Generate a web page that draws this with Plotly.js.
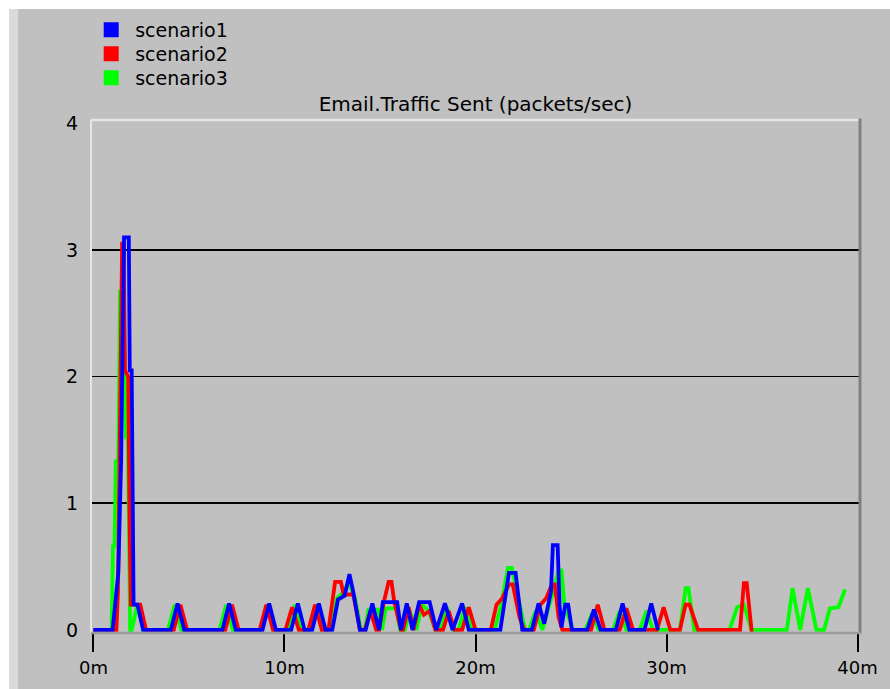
<!DOCTYPE html>
<html>
<head>
<meta charset="utf-8">
<script src="https://cdn.plot.ly/plotly-3.0.1.min.js"></script>
<style>
  html, body { margin: 0; padding: 0; background: #ffffff; width: 890px; height: 689px; overflow: hidden; }
  #chart { position: absolute; left: 9px; top: 9px; width: 881px; height: 680px; }
</style>
</head>
<body>
<div id="chart"></div>
<script>
// ---- data (time in minutes, values in packets/sec) ----
const seriesNames = ['scenario1', 'scenario2', 'scenario3'];

const s1Time = [0, 1.0, 1.1, 1.2, 1.3, 1.45, 1.6, 1.85, 1.9, 2.0, 2.05, 2.1, 2.3, 2.6,
  4.05, 4.4, 4.75, 6.75, 7.1, 7.45, 8.85, 9.2, 9.55, 10.35, 10.7, 11.05, 11.45, 11.8, 12.15,
  12.5, 12.8, 13.15, 13.4, 13.6, 13.95,
  14.25, 14.6, 14.95, 15.15, 15.9, 16.1, 16.4, 16.7, 17.05, 17.6, 17.95, 18.4, 18.8, 19.3, 19.65,
  21.3, 21.75, 22.1, 22.45, 22.95, 23.3, 23.6, 23.95, 24.05, 24.3, 24.4, 24.5, 24.7, 24.85, 25.05,
  25.85, 26.2, 26.55, 27.35, 27.7, 28.05, 28.85, 29.2, 29.55];
const s1Value = [0, 0, 0.15, 0.3, 0.45, 1.35, 3.1, 3.1, 2.05, 2.05, 1.0, 0.2, 0.2, 0,
  0, 0.21, 0, 0, 0.21, 0, 0, 0.21, 0, 0, 0.21, 0, 0, 0.21, 0,
  0, 0.24, 0.27, 0.44, 0.3, 0,
  0, 0.21, 0, 0.22, 0.22, 0, 0.21, 0, 0.22, 0.22, 0, 0.21, 0, 0.21, 0,
  0, 0.45, 0.45, 0, 0, 0.21, 0.05, 0.3, 0.67, 0.67, 0.2, 0.02, 0.2, 0.2, 0,
  0, 0.16, 0, 0, 0.21, 0, 0, 0.21, 0];

const s2Time = [0, 1.2, 1.28, 1.35, 1.42, 1.5, 1.58, 1.65, 1.82, 1.88, 1.95, 2.45, 2.75,
  4.2, 4.55, 4.9, 6.9, 7.25, 7.6, 8.7, 9.05, 9.4, 10.05, 10.4, 10.75, 11.25, 11.6, 11.95,
  12.3, 12.65, 12.95, 13.1, 13.6, 13.95, 14.2, 14.5, 14.8, 14.95, 15.2, 15.45, 15.6, 15.75, 16.1,
  16.2, 16.5, 16.75, 17.05, 17.3, 17.6, 17.9, 18.3, 18.6, 18.9, 19.3, 19.65, 20.0,
  20.8, 21.1, 21.4, 21.75, 21.95, 22.3, 22.55, 23.05, 23.4, 23.7, 24.0, 24.15, 24.35, 24.55,
  26.05, 26.4, 26.75, 27.55, 27.9, 28.25, 29.5, 29.85, 30.2, 30.7, 31.0, 31.2, 31.65,
  33.85, 34.05, 34.2, 34.45, 34.55];
const s2Value = [0, 0, 0.3, 1.0, 2.05, 3.05, 3.05, 2.05, 2.0, 1.0, 0.2, 0.2, 0,
  0, 0.2, 0, 0, 0.2, 0, 0, 0.2, 0, 0, 0.18, 0, 0, 0.2, 0,
  0, 0.38, 0.38, 0.28, 0.28, 0, 0, 0.15, 0, 0, 0.22, 0.38, 0.38, 0.22, 0,
  0, 0.18, 0, 0.2, 0.12, 0.15, 0, 0, 0.15, 0, 0, 0.18, 0,
  0, 0.2, 0.25, 0.36, 0.36, 0.1, 0, 0, 0.2, 0.25, 0.36, 0.36, 0.1, 0,
  0, 0.2, 0, 0, 0.17, 0, 0, 0.18, 0, 0, 0.2, 0.2, 0,
  0, 0.37, 0.37, 0, 0];

const s3Time = [0, 0.95, 1.02, 1.1, 1.17, 1.3, 1.39, 1.55, 1.7, 1.8, 1.85, 1.92, 2.0, 2.3, 2.6,
  3.9, 4.25, 4.6, 6.6, 6.95, 7.3, 8.75, 9.1, 9.45, 10.2, 10.55, 10.9, 11.3, 11.65, 12.0,
  12.4, 12.75, 13.1, 13.35, 13.7, 14.0, 14.2, 14.4, 14.9, 15.1, 15.3, 15.85, 16.05, 16.3, 16.55, 16.85,
  16.9, 17.2, 17.55, 17.9, 18.15, 18.5, 18.85, 19.1, 19.45, 19.8,
  21.0, 21.35, 21.7, 21.9, 22.3, 22.6, 22.8, 23.15, 23.5, 23.9, 24.15, 24.35, 24.5, 24.65, 24.9, 25.1,
  25.75, 26.1, 26.45, 27.2, 27.55, 27.9, 28.6, 28.95, 29.3, 30.7, 31.0, 31.15, 31.45,
  33.3, 33.7, 34.05, 34.45, 36.3, 36.6, 37.0, 37.4, 37.85, 38.25, 38.4, 38.55, 39.0, 39.35];
const s3Value = [0, 0, 0.66, 0.66, 1.33, 1.33, 2.67, 2.67, 1.52, 1.52, 0.9, 0, 0, 0.2, 0,
  0, 0.2, 0, 0, 0.2, 0, 0, 0.2, 0, 0, 0.2, 0, 0, 0.2, 0,
  0, 0.25, 0.3, 0.38, 0.25, 0, 0, 0.16, 0.16, 0, 0.17, 0.17, 0, 0, 0.15, 0,
  0, 0.2, 0.15, 0, 0, 0.18, 0, 0, 0.18, 0,
  0, 0.2, 0.49, 0.49, 0.2, 0, 0, 0.15, 0, 0.2, 0.35, 0.47, 0.47, 0.2, 0.1, 0,
  0, 0.13, 0, 0, 0.15, 0, 0, 0.15, 0, 0, 0.33, 0.33, 0,
  0, 0.18, 0.2, 0, 0, 0.33, 0, 0.33, 0, 0, 0.1, 0.17, 0.18, 0.32];

const xTickVals = [0, 10, 20, 30, 40];
const xTickText = ['0m', '10m', '20m', '30m', '40m'];
const yTickVals = [0, 1, 2, 3, 4];
const yTickText = ['0', '1', '2', '3', '4'];
const gridVals = [1, 2, 3];
const chartTitle = 'Email.Traffic Sent (packets/sec)';

// ---- styling ----
const colors = ['#0000ff', '#ff0000', '#00ff00'];
const FONT = 'DejaVu Sans, Verdana, sans-serif';
const BG = '#c0c0c0';
const W = 881, H = 680;
const legendIds = ['legend', 'legend2', 'legend3'];
const legendCenters = [21, 45, 69]; // px from top of the chart div

function lineTrace(t, v, i) {
  return { x: t, y: v, type: 'scatter', mode: 'lines', name: seriesNames[i],
    line: { color: colors[i], width: 3.8 }, showlegend: false, hoverinfo: 'skip' };
}
function legendTrace(i) {
  return { x: [null], y: [null], type: 'scatter', mode: 'markers', name: seriesNames[i],
    marker: { color: colors[i], symbol: 'square', size: 15 }, showlegend: true,
    yaxis: 'y2', legend: legendIds[i] };
}
function legendBox(i) {
  return { xref: 'container', yref: 'container',
    x: 78.2 / W, xanchor: 'left', y: 1 - legendCenters[i] / H, yanchor: 'middle',
    bgcolor: 'rgba(0,0,0,0)', borderwidth: 0, itemwidth: 38,
    font: { family: FONT, size: 19, color: '#000' } };
}

const data = [
  lineTrace(s3Time, s3Value, 2),
  lineTrace(s2Time, s2Value, 1),
  lineTrace(s1Time, s1Value, 0),
  legendTrace(0), legendTrace(1), legendTrace(2)
];

const yRange = [-0.024, 4.026];
const layout = {
  width: W, height: H,
  margin: { l: 82, r: 30, t: 111, b: 56, pad: 0, autoexpand: false },
  paper_bgcolor: BG, plot_bgcolor: BG,
  font: { family: FONT, size: 18, color: '#000' },
  title: { text: chartTitle, font: { family: FONT, size: 20, color: '#000' },
    x: 0.5, xref: 'paper', xanchor: 'center', y: 1 - 95 / H, yref: 'container', yanchor: 'middle' },
  showlegend: true,
  legend: legendBox(0),
  legend2: legendBox(1),
  legend3: legendBox(2),
  xaxis: { range: [-0.13, 40.13], tickvals: xTickVals, ticktext: xTickText,
    ticks: 'outside', ticklen: 18, tickwidth: 2, tickcolor: '#000',
    showgrid: false, zeroline: false, showline: false, fixedrange: true,
    tickfont: { family: FONT, size: 18, color: '#000' } },
  yaxis: { range: yRange, tickvals: yTickVals, ticktext: yTickText,
    ticks: 'outside', ticklen: 8, tickcolor: 'rgba(0,0,0,0)',
    showgrid: false, zeroline: false, showline: false, fixedrange: true,
    tickfont: { family: FONT, size: 19, color: '#000' } },
  yaxis2: { range: yRange, overlaying: 'y', side: 'left', tickvals: gridVals,
    showticklabels: false, ticks: '', showgrid: true, gridcolor: '#000', gridwidth: 1.6,
    zeroline: false, showline: false, fixedrange: true },
  shapes: [
    // light band at the left edge of the window frame
    { type: 'rect', xref: 'paper', yref: 'paper', x0: -0.1067, x1: -0.0949, y0: -0.2, y1: 1.3,
      fillcolor: '#dadada', line: { width: 0 }, layer: 'below' },
    // 3D plot frame: light top/left, dark right/bottom
    { type: 'line', xref: 'paper', yref: 'paper', x0: 0, x1: 1, y0: 1, y1: 1,
      line: { color: '#e6e6e6', width: 2.5 }, layer: 'above' },
    { type: 'line', xref: 'paper', yref: 'paper', x0: 0, x1: 0, y0: 0, y1: 1,
      line: { color: '#e6e6e6', width: 2 }, layer: 'above' },
    { type: 'line', xref: 'paper', yref: 'paper', x0: 1, x1: 1, y0: 0, y1: 1.003,
      line: { color: '#808080', width: 3 }, layer: 'above' },
    { type: 'line', xref: 'paper', yref: 'paper', x0: 0, x1: 1.002, y0: 0, y1: 0,
      line: { color: '#9a9a9a', width: 2.5 }, layer: 'above' }
  ]
};

Plotly.newPlot('chart', data, layout, { displayModeBar: false, staticPlot: true });
</script>
</body>
</html>
